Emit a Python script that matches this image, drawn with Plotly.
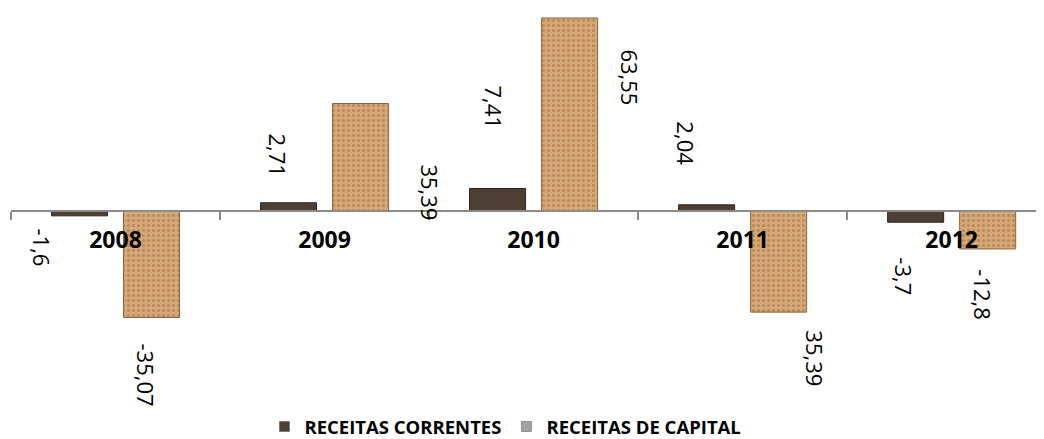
import plotly.graph_objects as go

# ---- data ----
years = ["2008", "2009", "2010", "2011", "2012"]
receitas_correntes = [-1.6, 2.71, 7.41, 2.04, -3.7]
receitas_capital = [-35.07, 35.39, 63.55, -33.3, -12.5]
labels_correntes = ["-1,6", "2,71", "7,41", "2,04", "-3,7"]
labels_capital = ["-35,07", "35,39", "63,55", "35,39", "-12,8"]
series_names = ["RECEITAS CORRENTES", "RECEITAS DE CAPITAL"]

# ---- style ----
c_dark = "#4e3e33"
c_tan = "#d6a875"
legend_colors = ["#4e3e33", "#a3a3a3"]
# label offsets (pixels, relative to category centre / zero line)
off_correntes = [(-74, -36), (-47, 56), (-40, 104), (-57, 68), (-48, -65)]
off_capital = [(30, -164), (105, 19), (96, 134), (72, -147), (31, -84)]

ymin, ymax = -77.71, 66.84
zero_pos = -ymin / (ymax - ymin)

fig = go.Figure()
fig.add_trace(go.Bar(
    x=years, y=receitas_correntes, name=series_names[0], showlegend=False,
    marker=dict(color=c_dark, line=dict(color="#2e241d", width=1)),
))
fig.add_trace(go.Bar(
    x=years, y=receitas_capital, name=series_names[1], showlegend=False,
    marker=dict(color=c_tan, line=dict(color="#8a6440", width=1),
                pattern=dict(shape=".", fgcolor="#9c6a3e", bgcolor=c_tan,
                             size=5, solidity=0.3, fillmode="overlay")),
))
for nm, col in zip(series_names, legend_colors):
    fig.add_trace(go.Scatter(
        x=[None], y=[None], mode="markers", name=nm,
        marker=dict(symbol="square", size=10, color=col,
                    line=dict(color="#555", width=0.5)),
    ))

annotations = []
for i, yr in enumerate(years):
    for txt, (dx, dy) in ((labels_correntes[i], off_correntes[i]),
                          (labels_capital[i], off_capital[i])):
        annotations.append(dict(
            x=i, y=0, xref="x", yref="y", text=txt, showarrow=False,
            xshift=dx, yshift=dy, textangle=90,
            font=dict(family="Open Sans", size=22, color="#000"),
        ))

fig.update_layout(
    width=1044, height=439,
    margin=dict(l=3, r=0, t=0, b=0),
    paper_bgcolor="white", plot_bgcolor="white",
    barmode="group", bargap=0.311, bargroupgap=0.222,
    annotations=annotations,
    showlegend=True,
    legend=dict(orientation="h", x=0.475, xanchor="center", y=0.0456,
                yanchor="middle", font=dict(family="Open Sans", size=18.5,
                                            color="#000", weight="bold"),
                itemwidth=30, tracegroupgap=0, bgcolor="rgba(0,0,0,0)"),
    xaxis=dict(
        type="category",
        range=[-0.5, 4.48], anchor="free", position=zero_pos,
        automargin=False,
        showline=True, linecolor="#8a8a8a", linewidth=2,
        ticks="outside", tickson="boundaries", ticklen=8,
        tickcolor="#8a8a8a", tickwidth=2,
        ticklabelstandoff=8, showgrid=False, zeroline=False,
        tickfont=dict(family="Open Sans", size=23, color="#000", weight="bold"),
    ),
    yaxis=dict(range=[ymin, ymax], visible=False, showgrid=False,
               zeroline=False, automargin=False),
)

fig.write_html("out.html")
